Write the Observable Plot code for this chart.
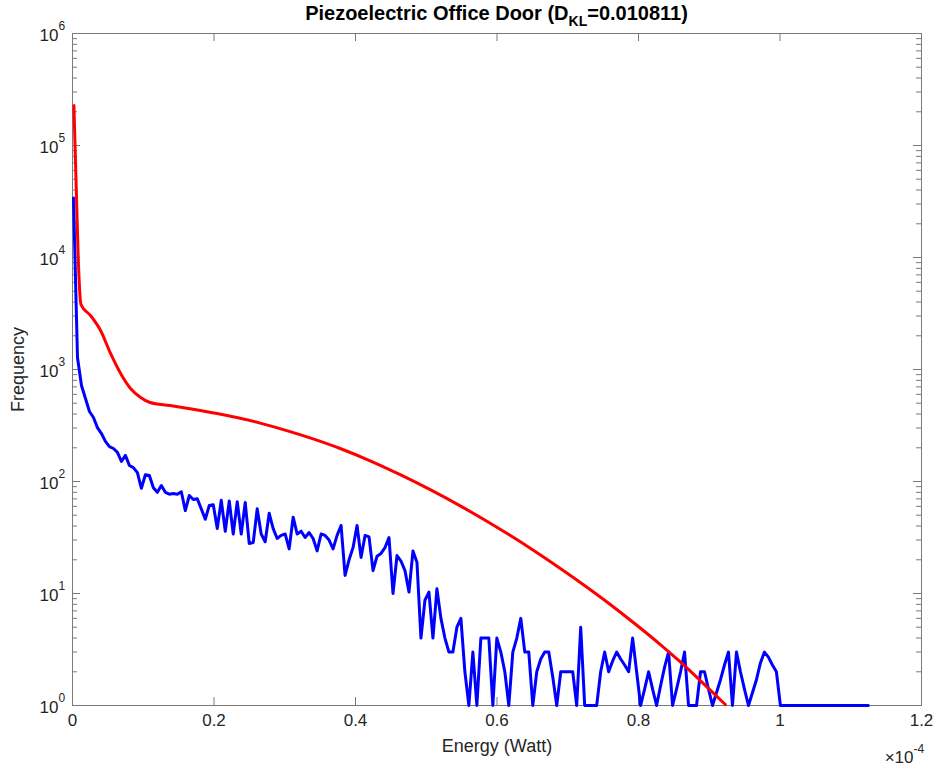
<!DOCTYPE html>
<html>
<head>
<meta charset="utf-8">
<script src="https://cdn.jsdelivr.net/npm/d3@7"></script>
<script src="https://cdn.jsdelivr.net/npm/@observablehq/plot@0.6"></script>
<style>
  html, body { margin: 0; padding: 0; background: #fff; }
  #chart { width: 940px; height: 769px; }
  svg text { font-family: "Liberation Sans", Arial, Helvetica, sans-serif; }
</style>
</head>
<body>
<div id="chart"></div>
<script>
// ---- Data (energy in units of 1e-4 Watt) ----
const titleMain = "Piezoelectric Office Door (D";
const titleSub = "KL";
const titleEnd = "=0.010811)";
const xLabel = "Energy (Watt)";
const yLabel = "Frequency";
const xTicks = [0, 0.2, 0.4, 0.6, 0.8, 1, 1.2];
const xTickLabels = ["0", "0.2", "0.4", "0.6", "0.8", "1", "1.2"];
const yMajorTicks = [1, 10, 100, 1000, 10000, 100000, 1000000];
const yMajorExp = ["0", "1", "2", "3", "4", "5", "6"];
const yMinorTicks = [2,3,4,5,6,7,8,9,20,30,40,50,60,70,80,90,200,300,400,500,600,700,800,900,
  2000,3000,4000,5000,6000,7000,8000,9000,20000,30000,40000,50000,60000,70000,80000,90000,
  200000,300000,400000,500000,600000,700000,800000,900000];
const xScaleBase = "\u00d710";
const xScaleExp = "-4";

// empirical histogram (blue): first bin centre and bin width, in 1e-4 W
const histFirstBin = 0.0014;
const histBinWidth = 0.005645;
const histFreq = [
  34000, 1280, 720, 551, 422, 373, 303, 268, 228, 205,
  197, 182, 151, 171, 139, 133, 120, 87, 115, 113,
  88, 80, 92, 80, 77, 78, 77, 81, 55, 75,
  69, 70, 57, 46, 61, 62, 38, 68, 36, 67,
  34, 66, 34, 65, 28, 28.5, 57, 34, 29, 52,
  38, 31, 33, 34, 25, 48, 34, 36, 31.6, 35,
  31, 24, 34, 33, 30, 25, 33, 40.5, 14.5, 20,
  25.7, 40.5, 21, 33, 32, 16, 21.5, 22.8, 25.7, 31.6,
  10, 21.8, 19.5, 16, 10.3, 24, 19, 4, 8.7, 10.3,
  4, 11, 6, 4, 3, 3, 5, 6, 2, 1,
  3, 1, 4, 4, 4, 1, 4, 3, 2, 1,
  3, 4, 6, 3, 3, 1, 2, 2.6, 3, 3,
  1.8, 1, 2, 2, 2, 2, 1, 5, 1, 1,
  1, 1, 2, 3, 2, 2.5, 3, 2.6, 2.3, 2,
  4, 2, 1, 1.4, 2, 1.4, 1, 1.5, 2.2, 3,
  1, 1.4, 2, 3, 1, 1, 1, 2, 2, 1.4,
  1, 1.3, 1.7, 2.3, 3, 1, 3, 2, 1.4, 1,
  1.3, 1.7, 2.4, 3, 2.7, 2.3, 2, 1, 1, 1,
  1, 1, 1, 1, 1, 1, 1, 1, 1, 1,
  1, 1, 1, 1, 1, 1, 1, 1, 1, 1
];
const histEnergy = histFreq.map((_, i) => histFirstBin + i * histBinWidth);

// fitted model (red)
const fitEnergy = [0.002, 0.005, 0.008, 0.012, 0.0255, 0.0397, 0.0538, 0.068, 0.082, 0.0963,
  0.1096, 0.1379, 0.1704, 0.2043, 0.2369, 0.2652, 0.3076, 0.3401, 0.3783, 0.4207,
  0.4632, 0.5056, 0.548, 0.5904, 0.647, 0.7078, 0.7601, 0.7927, 0.8309, 0.8591,
  0.8874, 0.9227];
const fitFreq = [227000, 48700, 10400, 3800, 3035, 2230, 1390, 921, 677, 562,
  507, 477, 442, 405, 367, 332, 279, 240, 197, 153,
  115, 84.5, 60.6, 42.4, 25.4, 13.9, 7.98, 5.51, 3.5, 2.45,
  1.67, 1.02];

const hist = histEnergy.map((e, i) => ({e, f: histFreq[i]}));
const fit = fitEnergy.map((e, i) => ({e, f: fitFreq[i]}));

// ---- Layout ----
const W = 940, H = 769;
const mL = 72, mR = 19, mT = 33, mB = 64;
const plotW = W - mL - mR, plotH = H - mT - mB;
const major = 8, minor = 5;
const axisColor = "#262626";
const frameColor = "#7a7a7a";
const font = "Liberation Sans, Arial, Helvetica, sans-serif";

const chart = Plot.plot({
  width: W, height: H,
  marginLeft: mL, marginRight: mR, marginTop: mT, marginBottom: mB,
  style: {fontFamily: font, background: "#fff", color: axisColor},
  x: {domain: [0, 1.2], axis: null},
  y: {type: "log", domain: [1, 1e6], axis: null},
  marks: [
    Plot.frame({stroke: frameColor, strokeWidth: 1}),
    // x ticks (bottom and top, inward)
    Plot.tickX(xTicks, {x: d => d, insetTop: plotH - major, stroke: frameColor}),
    Plot.tickX(xTicks, {x: d => d, insetBottom: plotH - major, stroke: frameColor}),
    // y major ticks (left and right, inward)
    Plot.tickY(yMajorTicks, {y: d => d, insetRight: plotW - major, stroke: frameColor}),
    Plot.tickY(yMajorTicks, {y: d => d, insetLeft: plotW - major, stroke: frameColor}),
    // y minor ticks
    Plot.tickY(yMinorTicks, {y: d => d, insetRight: plotW - minor, stroke: frameColor}),
    Plot.tickY(yMinorTicks, {y: d => d, insetLeft: plotW - minor, stroke: frameColor}),
    // data
    Plot.line(hist, {x: "e", y: "f", stroke: "#0000ff", strokeWidth: 3, strokeLinejoin: "round"}),
    Plot.line(fit, {x: "e", y: "f", stroke: "#ff0000", strokeWidth: 3, strokeLinejoin: "round", curve: "monotone-x"}),
    // x tick labels
    Plot.text(xTicks, {x: d => d, text: (d, i) => xTickLabels[i], frameAnchor: "bottom", lineAnchor: "middle", dy: 15, fontSize: 17, fill: axisColor}),
    // y tick labels: "10" + exponent
    Plot.text(yMajorTicks, {y: d => d, text: () => "10", frameAnchor: "left", textAnchor: "end", lineAnchor: "middle", dx: -14, dy: 2, fontSize: 17, fill: axisColor}),
    Plot.text(yMajorTicks, {y: d => d, text: (d, i) => yMajorExp[i], frameAnchor: "left", textAnchor: "start", lineAnchor: "middle", dx: -14, dy: -7, fontSize: 12, fill: axisColor}),
    // axis labels
    Plot.text([xLabel], {text: d => d, frameAnchor: "bottom", lineAnchor: "middle", dy: 41, fontSize: 18, fill: axisColor}),
    Plot.text([yLabel], {text: d => d, frameAnchor: "left", textAnchor: "middle", lineAnchor: "middle", rotate: -90, dx: -54, fontSize: 18, fill: axisColor}),
    // x multiplier
    Plot.text([xScaleBase], {text: d => d, frameAnchor: "bottom-right", textAnchor: "end", lineAnchor: "middle", dx: -8, dy: 52, fontSize: 17, fill: axisColor}),
    Plot.text([xScaleExp], {text: d => d, frameAnchor: "bottom-right", textAnchor: "start", lineAnchor: "middle", dx: -8, dy: 44, fontSize: 12, fill: axisColor})
  ]
});

// title with subscript
const svg = d3.select(chart);
const t = svg.append("text")
  .attr("x", mL + plotW / 2)
  .attr("y", 20)
  .attr("text-anchor", "middle")
  .attr("font-weight", "bold")
  .attr("font-size", 20)
  .attr("fill", "#000")
  .attr("font-family", font);
t.append("tspan").text(titleMain);
t.append("tspan").attr("font-size", 14).attr("dy", 6).text(titleSub);
t.append("tspan").attr("dy", -6).text(titleEnd);

document.getElementById("chart").appendChild(chart);
</script>
</body>
</html>
